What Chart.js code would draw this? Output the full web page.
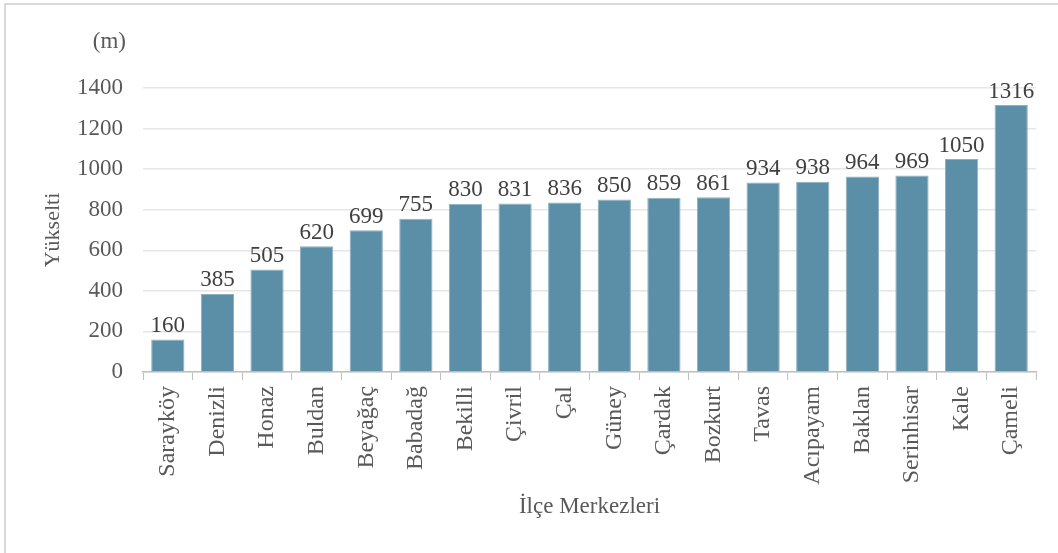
<!DOCTYPE html>
<html>
<head>
<meta charset="utf-8">
<script src="https://cdn.jsdelivr.net/npm/chart.js@4"></script>
<style>
  html, body { margin: 0; padding: 0; background: #fff; }
  #wrap { width: 1058px; height: 553px; }
</style>
</head>
<body>
<div id="wrap"><canvas id="elev" width="1058" height="553"></canvas></div>
<script>
// ilce merkezleri and their heights in metres
const districts = ['Sarayköy', 'Denizli', 'Honaz', 'Buldan', 'Beyağaç', 'Babadağ', 'Bekilli', 'Çivril', 'Çal',
  'Güney', 'Çardak', 'Bozkurt', 'Tavas', 'Acıpayam', 'Baklan', 'Serinhisar', 'Kale', 'Çameli']
const heights = [160, 385, 505, 620, 699, 755, 830, 831, 836, 850, 859, 861, 934, 938, 964, 969, 1050, 1316]
const yTicks = [0, 200, 400, 600, 800, 1000, 1200, 1400]

const serif = 'Liberation Serif, Times New Roman, serif'
const grey = '#595959'

// value on top of each bar + the (m) unit text + outer frame
const extras = {
    id: 'extras',
    beforeDraw(chart){
        const ctx = chart.ctx
        ctx.save()
        ctx.strokeStyle = '#d9d9d9'
        ctx.lineWidth = 2
        ctx.strokeRect(5, 4, 1200, 700)
        ctx.restore()
    },
    afterDatasetsDraw(chart){
        const ctx = chart.ctx
        const meta = chart.getDatasetMeta(0)
        ctx.save()
        ctx.font = '23px ' + serif
        ctx.fillStyle = '#404040'
        ctx.textAlign = 'center'
        ctx.textBaseline = 'bottom'
        meta.data.forEach((bar, i) => {
            ctx.fillText(heights[i], bar.x, bar.y - 2)
        })
        const y = chart.scales.y
        ctx.fillStyle = grey
        ctx.textAlign = 'right'
        ctx.textBaseline = 'middle'
        ctx.fillText('(m)', y.right - 17, chart.chartArea.top - 46)
        ctx.restore()
    }
}

new Chart(document.getElementById('elev'), {
    type: 'bar',
    data: {
        labels: districts,
        datasets: [{
            data: heights,
            backgroundColor: '#5b8fa7',
            borderColor: '#8db0c1',
            borderWidth: 1,
            barPercentage: 0.67,
            categoryPercentage: 1
        }]
    },
    options: {
        responsive: false,
        animation: false,
        layout: { padding: { top: 88, right: 22, bottom: 30, left: 40 } },
        plugins: { legend: { display: false }, tooltip: { enabled: false } },
        scales: {
            x: {
                afterFit: s => { s.height = 151 },
                grid: { offset: true, drawOnChartArea: false, color: '#bfbfbf', tickLength: 8 },
                border: { color: '#bfbfbf', width: 1.5 },
                ticks: { minRotation: 90, maxRotation: 90, color: grey, padding: 6, font: { family: serif, size: 24 } },
                title: { display: true, text: 'İlçe Merkezleri', color: grey, padding: { top: 0, bottom: 2 }, font: { family: serif, size: 23 } }
            },
            y: {
                min: 0,
                max: 1400,
                afterFit: s => { s.width = 103 },
                afterBuildTicks: s => { s.ticks = yTicks.map(v => ({ value: v })) },
                grid: { color: '#e6e6e6', drawTicks: false, lineWidth: 1.5 },
                border: { display: false },
                ticks: { color: grey, padding: 20, font: { family: serif, size: 23 }, callback: v => String(v) },
                title: { display: true, text: 'Yükselti', color: grey, padding: 0, font: { family: serif, size: 22 } }
            }
        }
    },
    plugins: [extras]
})
</script>
</body>
</html>
